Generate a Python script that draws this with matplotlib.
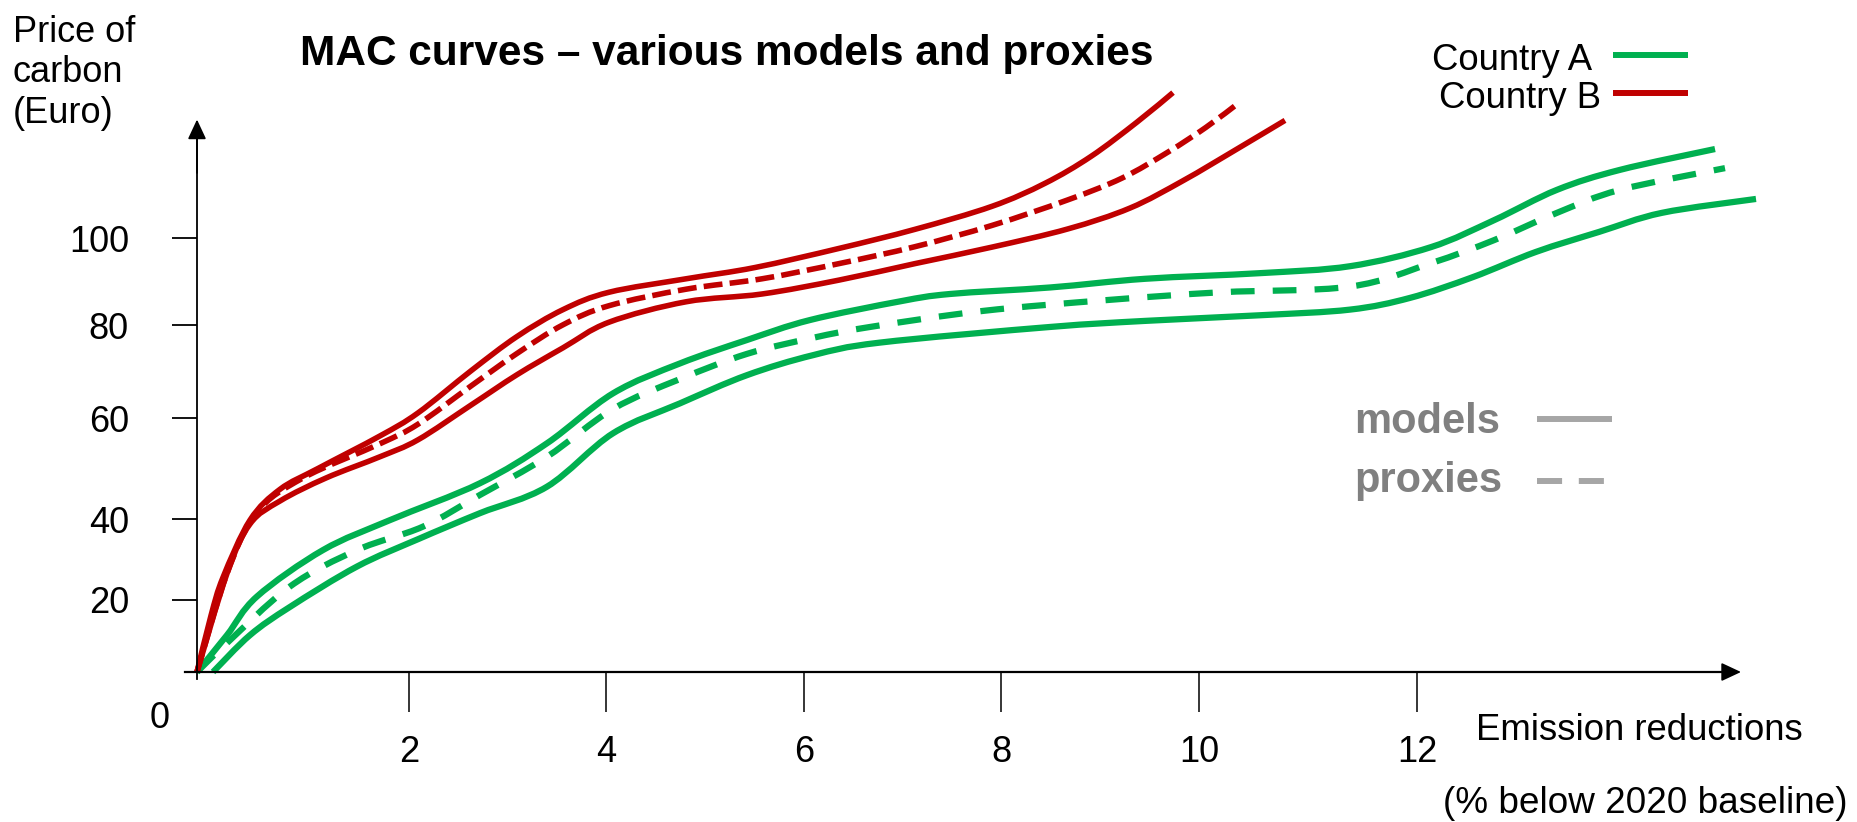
import matplotlib
matplotlib.use("Agg")
import matplotlib.pyplot as plt
from matplotlib.lines import Line2D
from matplotlib.path import Path
from matplotlib.patches import PathPatch

# Country A (green): emission reductions (%) vs price of carbon (Euro)
a_hi_x = [0, 0.30, 0.60, 1.26, 1.93, 2.83, 3.50, 4.16, 4.83, 5.50, 6.13, 7.03, 7.53,
          8.53, 9.48, 10.63, 11.53, 12.34, 12.97, 13.60, 14.23, 15.18]
a_hi_y = [0, 8.5, 17.4, 28.1, 35.0, 43.5, 52.7, 64.2, 71.1, 76.5, 81.1, 85.4, 87.1,
          88.6, 90.6, 91.9, 93.5, 97.9, 104.1, 111.1, 115.7, 120.5]
a_proxy_x = [0, 0.26, 0.93, 1.60, 2.26, 2.83, 3.50, 4.16, 4.83, 5.50, 6.16, 6.73, 7.86,
             9.10, 10.24, 11.53, 12.34, 12.97, 13.60, 14.23, 15.28]
a_proxy_y = [0, 5.8, 19.7, 28.1, 33.5, 40.8, 49.6, 60.6, 67.5, 73.3, 77.0, 79.5, 83.2,
             85.7, 87.5, 88.8, 94.2, 99.5, 105.8, 111.1, 116.1]
a_lo_x = [0.16, 0.53, 0.93, 1.60, 2.21, 2.83, 3.50, 4.16, 4.83, 5.50, 6.16, 6.83, 8.53,
          9.48, 10.63, 11.53, 12.13, 12.76, 13.39, 14.02, 14.65, 15.59]
a_lo_y = [0, 8.5, 15.0, 24.3, 30.6, 36.6, 42.7, 55.0, 61.9, 68.4, 73.0, 75.9, 79.5,
          80.9, 82.2, 83.5, 86.2, 91.0, 96.8, 101.4, 105.8, 109.0]

# Country B (red)
b_hi_x = [0, 0.14, 0.26, 0.53, 0.83, 1.21, 1.83, 2.21, 2.74, 3.20, 3.66, 4.12, 4.89,
          5.58, 6.42, 7.18, 7.95, 8.48, 8.94, 9.40, 9.76]
b_hi_y = [0, 13.0, 21.8, 35.0, 42.1, 46.9, 54.4, 59.7, 69.4, 77.3, 83.5, 87.5, 90.6,
          93.2, 97.6, 102.0, 107.3, 112.6, 118.8, 126.7, 133.5]
b_proxy_x = [0, 0.30, 0.60, 1.06, 1.83, 2.21, 2.74, 3.20, 3.66, 4.12, 4.89, 5.65, 6.42,
             7.18, 7.95, 8.71, 9.25, 9.71, 10.09, 10.41]
b_proxy_y = [0, 22.7, 36.8, 44.7, 52.6, 57.1, 65.9, 73.4, 80.0, 84.4, 88.2, 90.6, 94.1,
             98.0, 102.9, 108.8, 113.8, 119.8, 125.5, 131.0]
b_lo_x = [0, 0.30, 0.53, 0.83, 1.29, 1.83, 2.21, 2.74, 3.20, 3.66, 4.12, 4.89, 5.65,
          6.42, 7.18, 7.95, 8.71, 9.33, 9.86, 10.40, 10.88]
b_lo_y = [0, 22.7, 34.1, 39.4, 44.7, 49.6, 53.5, 61.5, 68.5, 74.7, 80.6, 85.3, 87.1,
          90.3, 94.1, 97.9, 102.1, 106.9, 113.2, 120.5, 127.1]

xtick_labels = ['2', '4', '6', '8', '10', '12']
ytick_labels = ['20', '40', '60', '80', '100']
# the hand drawn ticks are not evenly spaced
xtick_at = [2.12, 4.09, 6.07, 8.04, 10.02, 12.20]
ytick_at = [16.6, 35.25, 58.5, 79.95, 100.0]

GREEN = '#00B050'
RED = '#C00000'

plt.rcParams['font.family'] = ['Liberation Sans', 'DejaVu Sans']


def smooth(xs, ys):
    # smooth curve through the points (Catmull-Rom as cubic Bezier)
    pts = list(zip(xs, ys))
    verts = [pts[0]]
    codes = [Path.MOVETO]
    for i in range(len(pts) - 1):
        p0 = pts[i - 1] if i > 0 else pts[i]
        p1, p2 = pts[i], pts[i + 1]
        p3 = pts[i + 2] if i + 2 < len(pts) else pts[i + 1]
        c1 = (p1[0] + (p2[0] - p0[0]) / 6, p1[1] + (p2[1] - p0[1]) / 6)
        c2 = (p2[0] - (p3[0] - p1[0]) / 6, p2[1] - (p3[1] - p1[1]) / 6)
        verts += [c1, c2, p2]
        codes += [Path.CURVE4] * 3
    return Path(verts, codes)


def curve(ax, xs, ys, color, lw, ls='-'):
    ax.add_patch(PathPatch(smooth(xs, ys), fill=False, edgecolor=color, lw=lw,
                           linestyle=ls, capstyle='butt', joinstyle='round'))


W, H = 1858, 822
fig = plt.figure(figsize=(W / 100, H / 100), dpi=100)
ax = fig.add_axes([0, 0, 1, 1])
ax.set_xlim(-197 / 100, (W - 197) / 100)
ax.set_ylim(-(H - 672) / 4.34, 672 / 4.34)

curve(ax, a_hi_x, a_hi_y, GREEN, 4.5)
curve(ax, a_lo_x, a_lo_y, GREEN, 4.5)
curve(ax, a_proxy_x, a_proxy_y, GREEN, 4.5, (0, (3.8, 2.9)))
curve(ax, b_hi_x, b_hi_y, RED, 4.0)
curve(ax, b_lo_x, b_lo_y, RED, 4.0)
curve(ax, b_proxy_x, b_proxy_y, RED, 4.0, (0, (3.4, 1.3)))

# axes with arrows
for s in ['top', 'right']:
    ax.spines[s].set_visible(False)
ax.spines['left'].set_position(('data', 0))
ax.spines['bottom'].set_position(('data', 0))
ax.spines['left'].set_bounds(-1.5, 124)
ax.spines['bottom'].set_bounds(-0.12, 15.3)
ax.spines['left'].set_linewidth(1.3)
ax.spines['bottom'].set_linewidth(1.6)
arrow = dict(arrowstyle='-|>,head_length=0.6,head_width=0.28', color='black',
             lw=1.3, mutation_scale=20, shrinkA=0, shrinkB=0)
ax.annotate('', xy=(0, 127.3), xytext=(0, 115), arrowprops=arrow)
ax.annotate('', xy=(15.44, 0), xytext=(15.0, 0), arrowprops=arrow)

ax.set_xticks(xtick_at, labels=xtick_labels)
ax.set_yticks(ytick_at, labels=ytick_labels)
ax.tick_params(axis='x', direction='out', length=29, width=1.1, pad=16, labelsize=26)
ax.tick_params(axis='y', direction='out', length=18, width=1.3, pad=31, labelsize=26)
ax.text(-0.37, -10.8, '0', fontsize=26, ha='center', va='center')

# texts
fig.text(13 / W, 1 - 15 / H, 'Price of\ncarbon\n(Euro)', fontsize=26, ha='left', va='top',
         linespacing=1.2)
fig.text(727 / W, 1 - 54 / H, 'MAC curves \u2013 various models and proxies',
         fontsize=30.5, fontweight='bold', ha='center', va='center')
fig.text(1476 / W, 1 - 730 / H, 'Emission reductions', fontsize=26.3, ha='left', va='center')
fig.text(1848 / W, 1 - 803 / H, '(% below 2020 baseline)', fontsize=26.6, ha='right',
         va='center')

# country legend
fig.text(1592 / W, 1 - 60 / H, 'Country A', fontsize=26.3, ha='right', va='center')
fig.text(1601 / W, 1 - 98 / H, 'Country B', fontsize=26.3, ha='right', va='center')
fig.add_artist(Line2D([1613 / W, 1688 / W], [1 - 55 / H, 1 - 55 / H], color=GREEN, lw=4.3,
                      solid_capstyle='butt'))
fig.add_artist(Line2D([1613 / W, 1688 / W], [1 - 93 / H, 1 - 93 / H], color=RED, lw=4.3,
                      solid_capstyle='butt'))

# line style legend
fig.text(1354 / W, 1 - 433 / H, 'models', fontsize=30, fontweight='bold', color='#808080',
         ha='left', va='baseline')
fig.text(1354 / W, 1 - 492 / H, 'proxies', fontsize=30, fontweight='bold', color='#808080',
         ha='left', va='baseline')
fig.add_artist(Line2D([1537 / W, 1612 / W], [1 - 419 / H, 1 - 419 / H], color='#A6A6A6',
                      lw=4.3, solid_capstyle='butt'))
fig.add_artist(Line2D([1537 / W, 1612 / W], [1 - 481 / H, 1 - 481 / H], color='#A6A6A6',
                      lw=4.3, dashes=(4.2, 2.8), dash_capstyle='butt'))

fig.savefig('out.png', dpi=100)
